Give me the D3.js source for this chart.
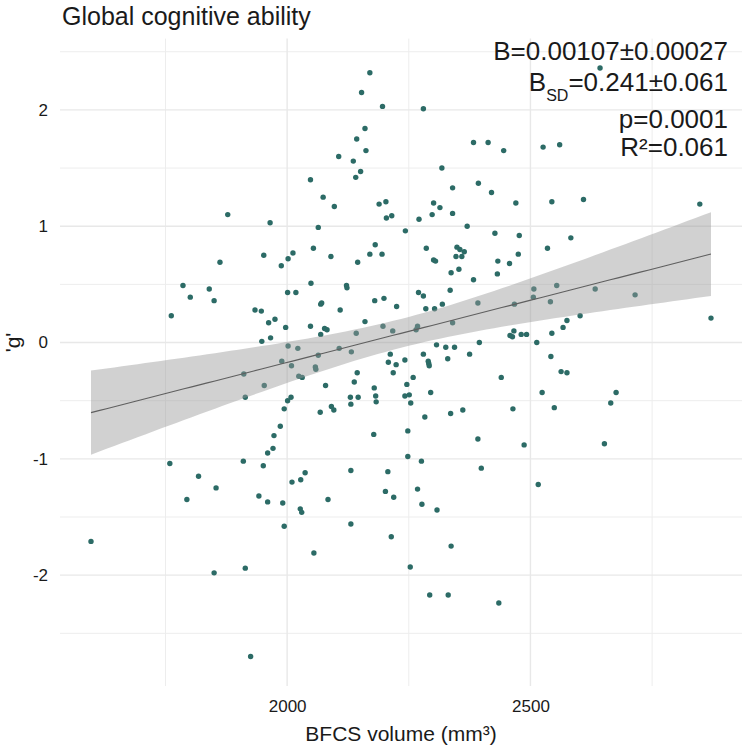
<!DOCTYPE html>
<html>
<head>
<meta charset="utf-8">
<script src="https://cdn.jsdelivr.net/npm/d3@7"></script>
<style>
  body { margin: 0; background: #fff; }
  text { font-family: "Liberation Sans", Arial, sans-serif; fill: #1a1a1a; }
</style>
</head>
<body>
<div id="chart-area"></div>
<script>
/* BFCS volume vs global cognitive ability ('g') */

// BFCS volume (mm³), one entry per subject
var volume = [
  1878,1965,1862,1952,1988,2002,1786,1801,1840,1850,1762,1934,1947,1962,1975,1997,2001,1948,1966,2002,
  1989,2009,1911,1953,1914,2008,2001,1994,1986,1973,1971,1960,1759,1910,1951,1818,1854,1794,1942,1960,
  1991,2010,1994,1597,1850,1914,1925,2170,2153,2196,2280,2160,2143,2162,2106,2136,2151,2141,2048,2383,
  2413,2445,2318,2340,2393,2420,2074,2097,2189,2203,2204,2215,2301,2314,2298,2340,2271,2064,2243,2370,
  2427,2054,2012,2090,2145,2170,2181,2195,2286,2301,2305,2349,2355,2364,2347,2359,2353,2337,2383,2433,
  2432,2457,2049,2122,2123,2018,2270,2280,2335,2069,2071,2109,2180,2199,2225,2285,2303,2319,2392,2048,
  2077,2082,2069,2160,2197,2217,2142,2268,2265,2340,2395,2022,2064,2107,2132,2058,2059,2212,2208,2224,
  2242,2280,2290,2291,2292,2307,2326,2344,2330,2375,2024,2031,2079,2144,2138,2218,2259,2246,2179,2182,
  2183,2130,2146,2131,2242,2251,2254,2295,2068,2091,2096,2283,2336,2361,2440,2178,2248,2392,2248,2276,
  2399,2037,2028,2131,2207,2202,2219,2268,2277,2084,2027,2030,2308,2055,2131,2214,2337,2253,2293,2331,
  2435,2643,2526,2560,2470,2544,2609,2848,2477,2535,2583,2475,2507,2554,2633,2715,2506,2541,2467,2602,
  2575,2567,2544,2871,2458,2463,2466,2481,2492,2513,2542,2563,2575,2524,2676,2665,2464,2549,2487,2652,
  2516
];

// 'g' score, same order as volume
var gScore = [
  1.10,1.03,0.69,0.75,0.66,0.72,0.49,0.39,0.46,0.36,0.23,0.28,0.27,0.17,0.20,0.13,0.43,0.01,0.04,-0.03,
  -0.16,-0.20,-0.27,-0.37,-0.47,-0.47,-0.50,-0.57,-0.72,-0.80,-0.91,-0.95,-1.04,-1.02,-1.06,-1.15,-1.25,-1.35,-1.32,-1.37,
  -1.38,-1.20,-1.58,-1.71,-1.98,-1.94,-2.70,2.32,2.15,2.03,2.01,1.84,1.75,1.65,1.60,1.56,1.47,1.42,1.40,1.72,
  1.72,1.65,1.50,1.33,1.37,1.29,1.25,1.17,1.19,1.21,1.07,1.09,1.20,1.16,1.10,1.11,1.06,0.99,0.96,1.00,
  0.94,0.81,0.77,0.74,0.69,0.76,0.84,0.76,0.81,0.71,0.70,0.82,0.80,0.78,0.74,0.74,0.63,0.60,0.54,0.70,
  0.59,0.68,0.51,0.49,0.47,0.43,0.43,0.40,0.45,0.33,0.34,0.28,0.36,0.38,0.31,0.29,0.29,0.33,0.34,0.14,
  0.12,0.11,0.07,0.18,0.14,0.10,0.08,0.14,0.11,0.17,0.00,-0.05,-0.11,-0.05,-0.08,-0.21,-0.23,-0.10,-0.17,-0.19,
  -0.15,-0.10,-0.16,-0.18,-0.20,-0.02,-0.04,-0.04,-0.14,-0.10,-0.29,-0.30,-0.37,-0.26,-0.34,-0.26,-0.30,-0.36,-0.39,-0.46,
  -0.51,-0.47,-0.47,-0.53,-0.46,-0.45,-0.52,-0.43,-0.60,-0.55,-0.58,-0.64,-0.61,-0.58,-0.30,-0.79,-0.76,-0.83,-0.98,-1.02,
  -1.08,-1.12,-1.18,-1.10,-1.11,-1.28,-1.33,-1.26,-1.39,-1.35,-1.43,-1.46,-1.44,-1.81,-1.56,-1.67,-1.75,-1.93,-2.17,-2.17,
  -2.24,2.36,1.68,1.70,1.20,1.21,1.23,1.19,0.92,0.81,0.90,0.76,0.46,0.49,0.46,0.41,0.39,0.35,0.33,0.23,
  0.19,0.13,0.08,0.21,0.06,0.05,0.10,0.07,0.07,0.00,-0.12,-0.25,-0.26,-0.43,-0.43,-0.52,-0.57,-0.56,-0.88,-0.87,
  -1.22
];

// tick values
var xTicks = [2000, 2500];
var xMinor = [1750, 2250, 2750];
var yTicks = [-2, -1, 0, 1, 2];
var yMinor = [-2.5, -1.5, -0.5, 0.5, 1.5, 2.5];

// linear fit, as reported on the figure
var fitSlope = 0.00107;
var fitSlopeSE = 0.00027;
var fitMeanX = 2235;
var fitAtMean = 0.08;
var fitMeanSE = 0.063;
var tCrit = 1.97;

var statLines = ["B=0.00107\u00B10.00027", "=0.241\u00B10.061", "p=0.0001", "R\u00B2=0.061"];

var data = volume.map(function(v, i){ return { x: v, y: gScore[i] }; });

var W = 750, H = 751;
var panel = { left: 60, right: 742, top: 38.6, bottom: 686 };

var svg = d3.select("#chart-area")
  .append("svg")
  .attr("width", W)
  .attr("height", H);

/* ggplot-style 5% expansion on both axes */
var xExt = d3.extent(data, function(d){ return d.x; });
var yExt = d3.extent(data, function(d){ return d.y; });
var xPad = (xExt[1] - xExt[0]) * 0.05;
var yPad = (yExt[1] - yExt[0]) * 0.05;

var x = d3.scaleLinear()
  .domain([xExt[0] - xPad, xExt[1] + xPad])
  .range([panel.left, panel.right]);

var y = d3.scaleLinear()
  .domain([yExt[0] - yPad, yExt[1] + yPad])
  .range([panel.bottom, panel.top]);

// grid
var grid = svg.append("g").attr("class", "grid");
grid.selectAll("line.xminor").data(xMinor).enter().append("line")
  .attr("x1", function(d){ return x(d); }).attr("x2", function(d){ return x(d); })
  .attr("y1", panel.top).attr("y2", panel.bottom)
  .attr("stroke", "#ededed").attr("stroke-width", 1);
grid.selectAll("line.yminor").data(yMinor).enter().append("line")
  .attr("y1", function(d){ return y(d); }).attr("y2", function(d){ return y(d); })
  .attr("x1", panel.left).attr("x2", panel.right)
  .attr("stroke", "#ededed").attr("stroke-width", 1);
grid.selectAll("line.xmajor").data(xTicks).enter().append("line")
  .attr("x1", function(d){ return x(d); }).attr("x2", function(d){ return x(d); })
  .attr("y1", panel.top).attr("y2", panel.bottom)
  .attr("stroke", "#e8e8e8").attr("stroke-width", 1.4);
grid.selectAll("line.ymajor").data(yTicks).enter().append("line")
  .attr("y1", function(d){ return y(d); }).attr("y2", function(d){ return y(d); })
  .attr("x1", panel.left).attr("x2", panel.right)
  .attr("stroke", "#e8e8e8").attr("stroke-width", 1.4);

// axes (text only, theme_minimal)
var xAxis = svg.append("g")
  .attr("transform", "translate(0," + (panel.bottom + 6) + ")")
  .call(d3.axisBottom(x).tickValues(xTicks).tickSize(0).tickPadding(8)
    .tickFormat(d3.format("d")));
xAxis.select(".domain").remove();
xAxis.selectAll("text").attr("font-size", "17px").attr("fill", "#333")
  .style("font-family", "Liberation Sans, Arial, sans-serif");

var yAxis = svg.append("g")
  .attr("transform", "translate(" + (panel.left - 12) + ",0)")
  .call(d3.axisLeft(y).tickValues(yTicks).tickSize(0).tickPadding(0)
    .tickFormat(function(d){ return String(d); }));
yAxis.select(".domain").remove();
yAxis.selectAll("text").attr("font-size", "17px").attr("fill", "#333")
  .style("font-family", "Liberation Sans, Arial, sans-serif");

// points
svg.append("g").selectAll("circle")
  .data(data)
  .enter()
  .append("circle")
    .attr("cx", function(d){ return x(d.x); })
    .attr("cy", function(d){ return y(d.y); })
    .attr("r", 2.7)
    .attr("fill", "#2c6b66");

// confidence band + fitted line
var fitX = d3.range(xExt[0], xExt[1] + 1, (xExt[1] - xExt[0]) / 80);
var fit = fitX.map(function(v){
  var m = fitAtMean + fitSlope * (v - fitMeanX);
  var se = Math.sqrt(fitMeanSE * fitMeanSE + Math.pow(fitSlopeSE * (v - fitMeanX), 2));
  return { x: v, fit: m, lo: m - tCrit * se, hi: m + tCrit * se };
});

svg.append("path")
  .datum(fit)
  .attr("fill", "#999999")
  .attr("fill-opacity", 0.45)
  .attr("d", d3.area()
    .x(function(d){ return x(d.x); })
    .y0(function(d){ return y(d.lo); })
    .y1(function(d){ return y(d.hi); }));

svg.append("path")
  .datum(fit)
  .attr("fill", "none")
  .attr("stroke", "#5f5f5f")
  .attr("stroke-width", 1.1)
  .attr("d", d3.line()
    .x(function(d){ return x(d.x); })
    .y(function(d){ return y(d.fit); }));

// title
svg.append("text")
  .attr("x", 62)
  .attr("y", 25)
  .attr("font-size", "25px")
  .text("Global cognitive ability");

// axis labels
svg.append("text")
  .attr("x", (panel.left + panel.right) / 2)
  .attr("y", 741)
  .attr("font-size", "21px")
  .attr("text-anchor", "middle")
  .text("BFCS volume (mm\u00B3)");

svg.append("text")
  .attr("transform", "translate(20," + y(0) + ") rotate(-90)")
  .attr("font-size", "21px")
  .attr("text-anchor", "middle")
  .text("'g'");

// stats annotation, right aligned
var ann = svg.append("g").attr("font-size", "26px").attr("text-anchor", "end");
ann.append("text").attr("x", 728).attr("y", 59.7).text(statLines[0]);
var bsd = ann.append("text").attr("x", 728).attr("y", 91.3);
bsd.append("tspan").text("B");
bsd.append("tspan").attr("font-size", "16px").attr("dy", 10).text("SD");
bsd.append("tspan").attr("dy", -10).text(statLines[1]);
ann.append("text").attr("x", 728).attr("y", 128).text(statLines[2]);
ann.append("text").attr("x", 728).attr("y", 156.3).text(statLines[3]);
</script>
</body>
</html>
